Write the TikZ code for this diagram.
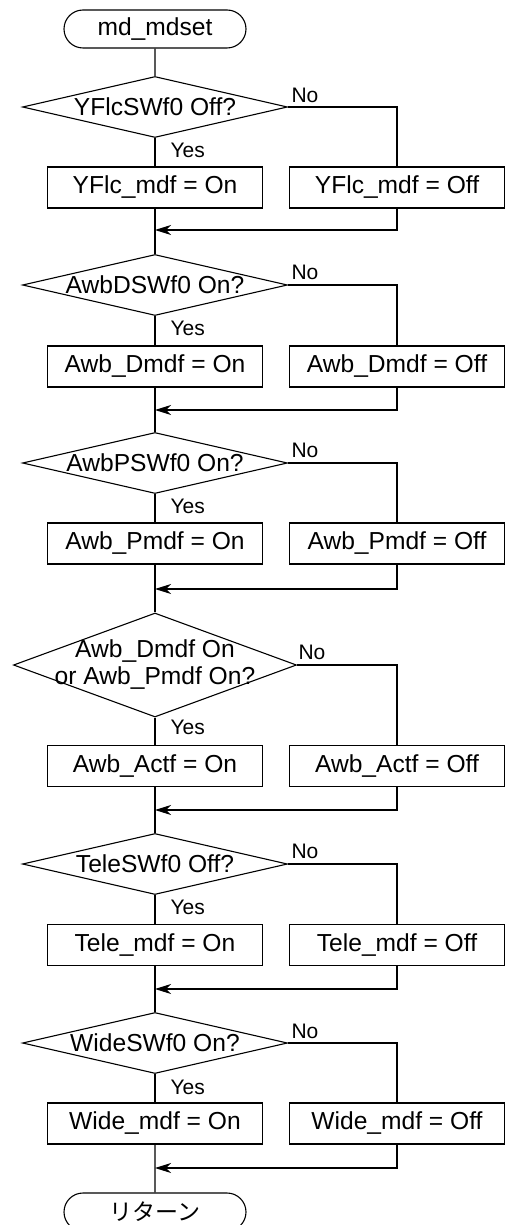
\documentclass[tikz,border=0pt]{standalone}
\usepackage{fontspec}
\setmainfont{Liberation Sans}
\newfontfamily\jpfont{Noto Sans CJK JP}
\usetikzlibrary{shapes.geometric,shapes.misc,arrows.meta}
\tikzset{
  procbox/.style={draw, rectangle, minimum width=107.5pt, minimum height=20.5pt,
    inner sep=0pt, font=\fontsize{12.3}{13}\selectfont},
  decision/.style={draw, diamond, shape aspect=4.3, minimum width=132.5pt,
    minimum height=30.5pt, inner xsep=-12pt, inner ysep=-2pt,
    font=\fontsize{12.3}{13.5}\selectfont},
  terminal/.style={draw, rounded rectangle, minimum width=91pt, minimum height=19pt,
    inner sep=0pt, font=\fontsize{12.3}{13}\selectfont},
  yesno/.style={inner sep=0pt, font=\fontsize{10.5}{12}\selectfont},
  joinarrow/.style={-{Stealth[length=8pt,width=5pt,inset=2.5pt]}}
}
\begin{document}
\begin{tikzpicture}[x=0.5pt, y=-0.5pt, line width=0.55pt]
\useasboundingbox (0,0) rectangle (509,1225);
\node[terminal] (start) at (155,29) {md\_mdset};
% YFlcSWf0
\node[decision] (d1) at (155,107) {YFlcSWf0 Off?};
\node[procbox] (y1) at (155,187.5) {YFlc\_mdf = On};
\node[procbox] (n1) at (397,187.5) {YFlc\_mdf = Off};
\node[yesno, anchor=west] (yes1) at (170,150) {Yes};
\node[yesno] (no1) at (305,95) {No};
\coordinate (m1) at (155,230);
% AwbDSWf0
\node[decision] (d2) at (155,285) {AwbDSWf0 On?};
\node[procbox] (y2) at (155,366.5) {Awb\_Dmdf = On};
\node[procbox] (n2) at (397,366.5) {Awb\_Dmdf = Off};
\node[yesno, anchor=west] (yes2) at (170,328) {Yes};
\node[yesno] (no2) at (305,272) {No};
\coordinate (m2) at (155,410);
% AwbPSWf0
\node[decision] (d3) at (155,463) {AwbPSWf0 On?};
\node[procbox] (y3) at (155,543.5) {Awb\_Pmdf = On};
\node[procbox] (n3) at (397,543.5) {Awb\_Pmdf = Off};
\node[yesno, anchor=west] (yes3) at (170,506) {Yes};
\node[yesno] (no3) at (305,450) {No};
\coordinate (m3) at (155,589);
% Awb_Actf
\node[decision, shape aspect=2.72, minimum width=141.5pt, minimum height=52pt,
  align=center, inner xsep=-16pt, inner ysep=-4pt] (d4) at (155,665)
  {Awb\_Dmdf On\\or Awb\_Pmdf On?};
\node[procbox] (y4) at (155,766) {Awb\_Actf = On};
\node[procbox] (n4) at (397,766) {Awb\_Actf = Off};
\node[yesno, anchor=west] (yes4) at (170,727) {Yes};
\node[yesno] (no4) at (312,652) {No};
\coordinate (m4) at (155,810);
% TeleSWf0
\node[decision] (d5) at (155,864) {TeleSWf0 Off?};
\node[procbox] (y5) at (155,945) {Tele\_mdf = On};
\node[procbox] (n5) at (397,945) {Tele\_mdf = Off};
\node[yesno, anchor=west] (yes5) at (170,907) {Yes};
\node[yesno] (no5) at (305,851) {No};
\coordinate (m5) at (155,989);
% WideSWf0
\node[decision] (d6) at (155,1043) {WideSWf0 On?};
\node[procbox] (y6) at (155,1123.5) {Wide\_mdf = On};
\node[procbox] (n6) at (397,1123.5) {Wide\_mdf = Off};
\node[yesno, anchor=west] (yes6) at (170,1087) {Yes};
\node[yesno] (no6) at (305,1031) {No};
\coordinate (m6) at (155,1168);
\node[terminal, font=\jpfont\fontsize{11.5}{13}\selectfont] (stop) at (155,1212) {リターン};
% main line
\draw (start) -- (d1);
\draw (d1) -- (y1);
\draw (y1) -- (d2);
\draw (d2) -- (y2);
\draw (y2) -- (d3);
\draw (d3) -- (y3);
\draw (y3) -- (d4);
\draw (d4) -- (y4);
\draw (y4) -- (d5);
\draw (d5) -- (y5);
\draw (y5) -- (d6);
\draw (d6) -- (y6);
\draw (y6) -- (stop);
% no branches
\draw (d1.east) -| (n1.north);
\draw (d2.east) -| (n2.north);
\draw (d3.east) -| (n3.north);
\draw (d4.east) -| (n4.north);
\draw (d5.east) -| (n5.north);
\draw (d6.east) -| (n6.north);
\draw[joinarrow] (n1.south) |- (m1);
\draw[joinarrow] (n2.south) |- (m2);
\draw[joinarrow] (n3.south) |- (m3);
\draw[joinarrow] (n4.south) |- (m4);
\draw[joinarrow] (n5.south) |- (m5);
\draw[joinarrow] (n6.south) |- (m6);
\end{tikzpicture}
\end{document}
